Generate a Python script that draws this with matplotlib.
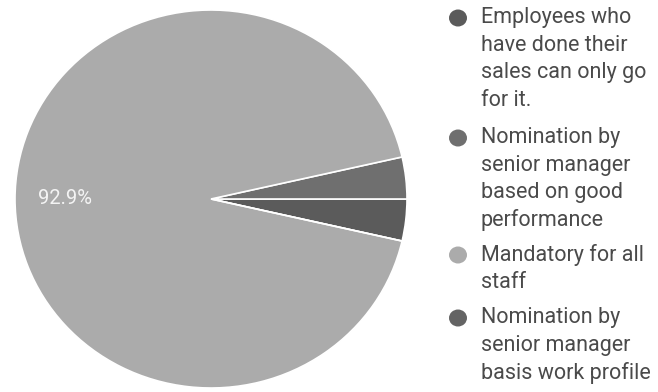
import matplotlib
matplotlib.use("Agg")
import matplotlib.pyplot as plt
from matplotlib.patches import Ellipse

# Survey responses per option
categories = [
    "Employees who\nhave done their\nsales can only go\nfor it.",
    "Nomination by\nsenior manager\nbased on good\nperformance",
    "Mandatory for all\nstaff",
    "Nomination by\nsenior manager\nbasis work profile",
]
counts = [1, 1, 26, 0]
colors = ["#5b5b5b", "#6f6f6f", "#ababab", "#646464"]

W, H = 658, 392
fig = plt.figure(figsize=(W / 100, H / 100), dpi=100)
fig.patch.set_facecolor("white")

# Pie geometry in pixels (slightly wider than tall)
cx, cy, rx, ry = 211, 199, 196, 189
ax = fig.add_axes([(cx - rx) / W, (H - cy - ry) / H, 2 * rx / W, 2 * ry / H])

total = sum(counts)
start = -360.0 * counts[0] / total
wedges, texts, autotexts = ax.pie(
    counts,
    colors=colors,
    startangle=start,
    counterclock=True,
    radius=1.0,
    autopct=lambda p: f"{p:.1f}%" if p > 5 else "",
    pctdistance=0.745,
    wedgeprops=dict(edgecolor="white", linewidth=1.2),
    textprops=dict(color="#f4f4f4", fontsize=14.5, family=["Roboto", "DejaVu Sans"]),
)
ax.set_aspect("auto")
ax.set_xlim(-1, 1)
ax.set_ylim(-1, 1)
ax.axis("off")

# Legend drawn beside the pie
legend_font = dict(fontsize=15.5, color="#4a4a4a", family=["Roboto", "DejaVu Sans"])
line_h = 27.4
first_lines = [18, 138, 255, 318]
for label, color, y0 in zip(categories, colors, first_lines):
    marker = Ellipse(((458) / 100, (H - y0) / 100), 18 / 100, 17 / 100,
                     transform=fig.dpi_scale_trans, facecolor=color, edgecolor="none")
    fig.patches.append(marker)
    for i, line in enumerate(label.split("\n")):
        fig.text(481 / W, 1 - (y0 + i * line_h) / H, line, va="center", ha="left",
                 **legend_font)

fig.savefig("out.png", dpi=100, facecolor="white")
